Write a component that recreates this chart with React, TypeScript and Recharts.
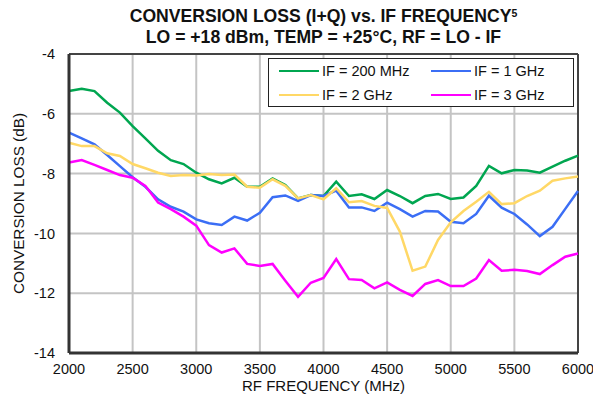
import React from 'react';
import { LineChart, Line, XAxis, YAxis, CartesianGrid, ReferenceLine } from 'recharts';

const freqs = [2000, 2100, 2200, 2300, 2400, 2500, 2600, 2700, 2800, 2900, 3000, 3100, 3200, 3300, 3400, 3500, 3600, 3700, 3800, 3900, 4000, 4100, 4200, 4300, 4400, 4500, 4600, 4700, 4800, 4900, 5000, 5100, 5200, 5300, 5400, 5500, 5600, 5700, 5800, 5900, 6000];

const if200 = [-5.24, -5.16, -5.24, -5.63, -5.96, -6.41, -6.82, -7.24, -7.55, -7.68, -7.97, -8.19, -8.33, -8.14, -8.44, -8.44, -8.16, -8.38, -8.83, -8.72, -8.75, -8.27, -8.75, -8.69, -8.85, -8.55, -8.75, -8.99, -8.75, -8.68, -8.85, -8.80, -8.41, -7.74, -7.99, -7.88, -7.90, -7.97, -7.77, -7.57, -7.40];
const if1g = [-6.63, -6.82, -7.02, -7.38, -7.75, -8.12, -8.44, -8.86, -9.11, -9.27, -9.53, -9.66, -9.72, -9.44, -9.57, -9.31, -8.79, -8.73, -8.91, -8.72, -8.75, -8.57, -9.13, -9.13, -9.25, -8.97, -9.19, -9.44, -9.25, -9.27, -9.61, -9.66, -9.35, -8.74, -9.14, -9.35, -9.70, -10.09, -9.78, -9.18, -8.58];
const if2g = [-6.97, -7.08, -7.08, -7.32, -7.41, -7.68, -7.82, -7.97, -8.08, -8.05, -8.06, -8.01, -8.05, -8.03, -8.44, -8.47, -8.19, -8.41, -8.83, -8.72, -8.86, -8.49, -8.96, -8.92, -9.08, -9.15, -9.94, -11.25, -11.11, -10.22, -9.63, -9.25, -8.94, -8.61, -9.02, -8.99, -8.75, -8.57, -8.24, -8.16, -8.10];
const if3g = [-7.63, -7.55, -7.71, -7.88, -8.05, -8.14, -8.41, -8.97, -9.19, -9.44, -9.74, -10.39, -10.64, -10.50, -11.02, -11.09, -11.02, -11.58, -12.12, -11.65, -11.49, -10.86, -11.53, -11.56, -11.84, -11.64, -11.89, -12.09, -11.69, -11.56, -11.76, -11.76, -11.51, -10.89, -11.25, -11.22, -11.26, -11.36, -11.06, -10.78, -10.67];

const xTicks = [2000, 2500, 3000, 3500, 4000, 4500, 5000, 5500, 6000];
const yTicks = [-14, -12, -10, -8, -6, -4];

const seriesNames = ['IF = 200 MHz', 'IF = 1 GHz', 'IF = 2 GHz', 'IF = 3 GHz'];
const seriesKeys = ['if200', 'if1g', 'if2g', 'if3g'];
const seriesColors = ['#00A650', '#3B6EF5', '#FFD866', '#FF00FF'];

const data = freqs.map((f, i) => ({ freq: f, if200: if200[i], if1g: if1g[i], if2g: if2g[i], if3g: if3g[i] }));

const FONT = 'Arial, "Liberation Sans", Helvetica, sans-serif';

const LegendBox = () => (
  <div style={{ position: 'absolute', left: 268, top: 58, width: 306, height: 49, border: '1.5px solid #222', background: '#fff', boxSizing: 'border-box', fontFamily: FONT, fontSize: 14.5, color: '#111' }}>
    {seriesNames.map((n, i) => {
      const col = i % 2;
      const row = Math.floor(i / 2);
      const left = col === 0 ? 10 : 162;
      const top = row === 0 ? 3 : 27;
      return (
        <div key={n} style={{ position: 'absolute', left, top, display: 'flex', alignItems: 'center', height: 18, whiteSpace: 'nowrap' }}>
          <div style={{ width: 40, height: 2.5, background: seriesColors[i], marginRight: 3 }} />
          <span>{n}</span>
        </div>
      );
    })}
  </div>
);

export default function App() {
  return (
    <div style={{ position: 'absolute', left: 0, top: 0, width: 593, height: 403, background: '#fff', fontFamily: FONT }}>
      <div style={{ position: 'absolute', left: 0, top: 0 }}>
        <LineChart width={593} height={403} data={data} margin={{ top: 54, right: 15, bottom: 0, left: 0 }}>
          <CartesianGrid stroke="#C4C4C4" strokeWidth={2} horizontalValues={yTicks} verticalValues={xTicks} />
          <XAxis
            dataKey="freq"
            type="number"
            domain={[2000, 6000]}
            ticks={xTicks}
            height={50}
            tickLine={false}
            tickSize={0}
            tickMargin={11}
            axisLine={{ stroke: '#333', strokeWidth: 3 }}
            tick={{ fill: '#111', fontSize: 14.5, fontFamily: FONT }}
            label={{ value: 'RF FREQUENCY (MHz)', position: 'insideBottom', offset: 12, fill: '#111', fontSize: 15, fontFamily: FONT }}
          />
          <YAxis
            type="number"
            domain={[-14, -4]}
            ticks={yTicks}
            width={69}
            tickLine={false}
            tickSize={0}
            tickMargin={14}
            axisLine={{ stroke: '#333', strokeWidth: 3 }}
            tick={{ fill: '#111', fontSize: 14.5, fontFamily: FONT }}
            label={{ value: 'CONVERSION LOSS (dB)', angle: -90, position: 'center', dx: -16, fill: '#111', fontSize: 15.3, fontFamily: FONT }}
          />
          <ReferenceLine y={-4} stroke="#444" strokeWidth={2} />
          <ReferenceLine x={6000} stroke="#444" strokeWidth={2} />
          {seriesKeys.map((k, i) => (
            <Line key={k} type="linear" dataKey={k} name={seriesNames[i]} stroke={seriesColors[i]} strokeWidth={2.5} dot={false} isAnimationActive={false} />
          ))}
        </LineChart>
      </div>
      <LegendBox />
      <div style={{ position: 'absolute', left: 69, width: 509, top: 8, textAlign: 'center', fontWeight: 'bold', fontSize: 17.6, lineHeight: '16px', color: '#111' }}>
        <div>CONVERSION LOSS (I+Q) vs. IF FREQUENCY<span style={{ fontSize: 10.5, position: 'relative', top: -5 }}>5</span></div>
        <div style={{ marginTop: 3 }}>LO = +18 dBm, TEMP = +25°C, RF = LO - IF</div>
      </div>
    </div>
  );
}
